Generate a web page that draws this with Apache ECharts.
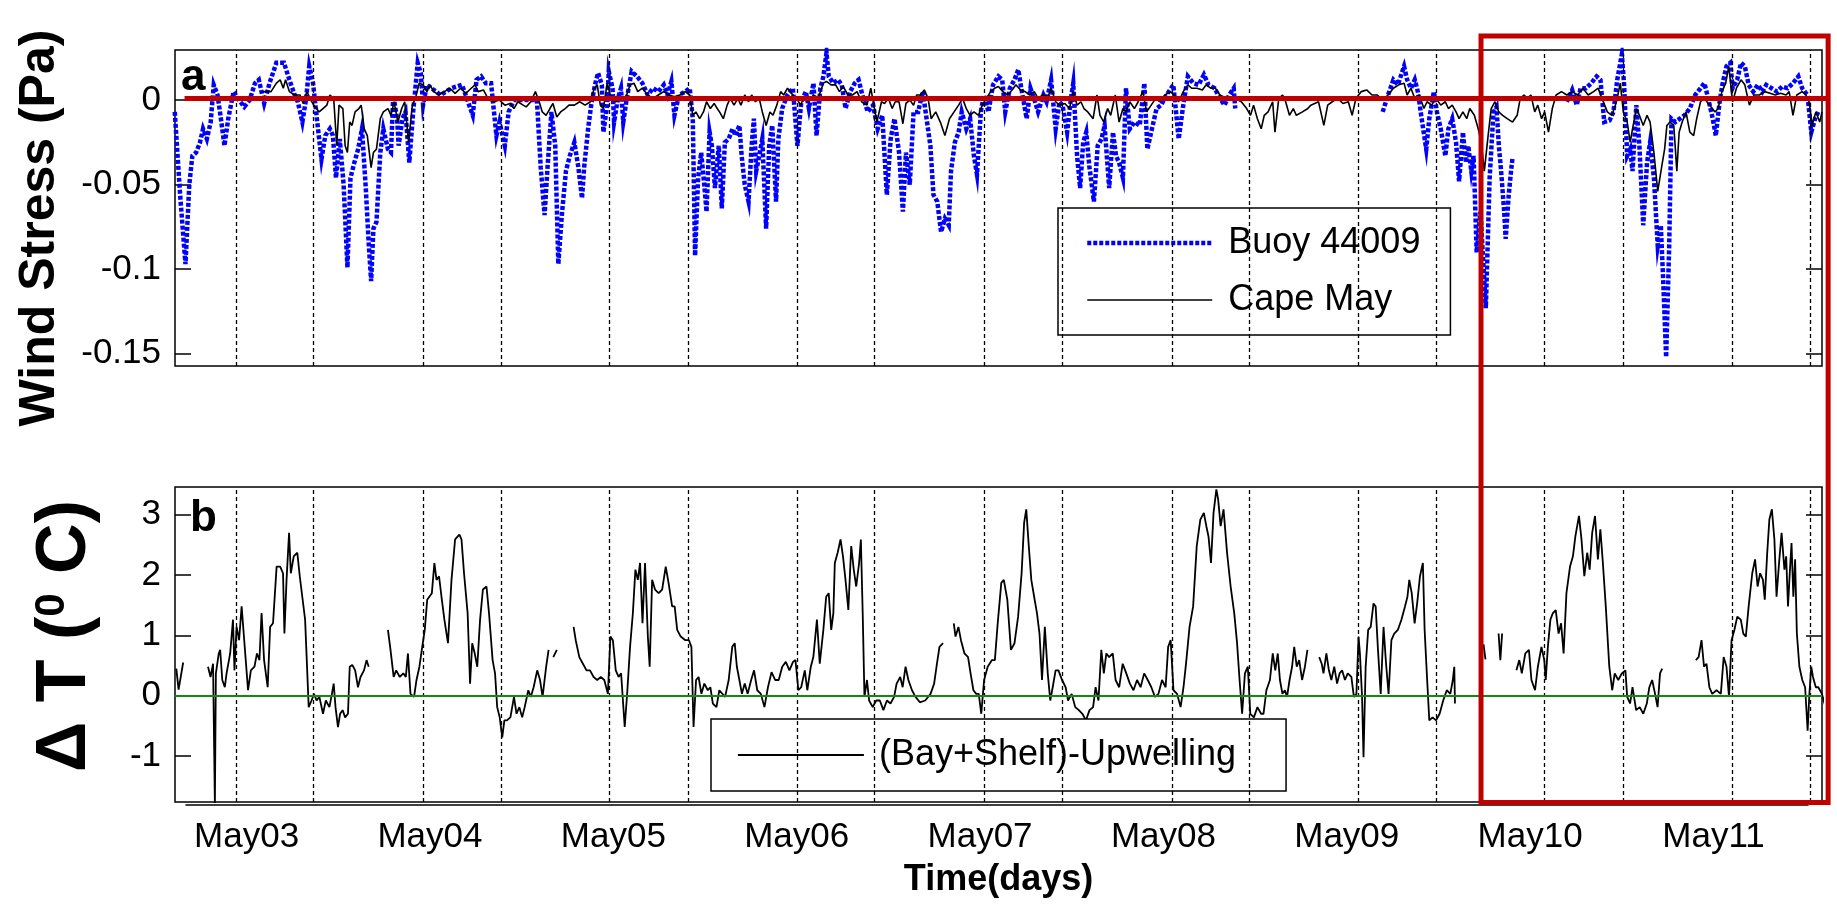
<!DOCTYPE html>
<html><head><meta charset="utf-8">
<script src="https://cdn.jsdelivr.net/npm/echarts@6/dist/echarts.min.js"></script>
<style>html,body{margin:0;padding:0;background:#fff}#c{width:1837px;height:906px}</style>
</head><body><div id="c"></div>
<script>
// x values are hours since May03 00:00
const dayTicks = [0, 24, 48, 72, 96, 120, 144, 168, 192];
const dayLabels = ['May03','May04','May05','May06','May07','May08','May09','May10','May11'];
const nightLines = [-1.4, 8.75, 23.1, 33.3, 47.5, 57.8, 72.1, 82.2, 96.5, 106.7, 121.1, 131.3, 145.5, 155.7, 169.9, 180.2, 194.5, 204.6];
const wsTicks = [0, -0.05, -0.1, -0.15];
const wsTickLabels = ['0', '-0.05', '-0.1', '-0.15'];
const dtTicks = [-1, 0, 1, 2, 3];
const dtTickLabels = ['-1', '0', '1', '2', '3'];

const buoy44009 = [[-9.4,-0.007],[-8.7,-0.056],[-8.0,-0.097],[-7.5,-0.050],[-7.1,-0.033],[-6.6,-0.031],[-6.1,-0.025],[-5.7,-0.017],[-5.2,-0.023],[-4.7,-0.013],[-4.3,0.009],[-3.8,0.003],[-3.3,-0.013],[-2.9,-0.027],[-2.4,-0.011],[-1.7,0.005],[-1.0,0.000],[-0.3,-0.004],[0.4,0.000],[1.1,0.010],[1.6,0.012],[2.3,-0.002],[3.0,0.010],[3.9,0.022],[4.9,0.022],[5.6,0.012],[6.3,0.003],[6.7,-0.001],[7.3,-0.013],[7.8,0.001],[8.2,0.020],[8.7,0.010],[9.2,-0.011],[9.8,-0.035],[10.3,-0.021],[10.9,-0.017],[11.3,-0.021],[11.7,-0.046],[12.2,-0.023],[12.7,-0.050],[13.2,-0.099],[13.6,-0.046],[14.1,-0.037],[14.6,-0.029],[15.1,-0.017],[15.6,-0.052],[16.0,-0.086],[16.3,-0.107],[16.6,-0.076],[17.0,-0.072],[17.5,-0.031],[17.9,-0.017],[18.5,-0.029],[18.9,-0.031],[19.2,0.003],[19.7,-0.011],[19.9,-0.027],[20.4,-0.011],[20.8,-0.007],[21.3,-0.037],[21.8,-0.007],[22.4,0.022],[22.8,0.016],[23.1,-0.003],[23.6,0.009],[25.4,0.003],[26.8,0.007],[28.2,0.009],[29.6,-0.009],[30.1,0.012],[30.7,0.014],[31.3,0.010],[32.0,0.010],[32.7,-0.021],[33.1,-0.013],[33.8,-0.027],[34.3,-0.007],[35.0,0.000],[36.6,0.000],[38.0,0.000],[38.5,-0.040],[39.0,-0.068],[39.4,-0.039],[39.9,-0.007],[40.4,-0.027],[40.8,-0.097],[41.3,-0.066],[41.8,-0.042],[42.3,-0.033],[42.9,-0.025],[43.4,-0.039],[43.9,-0.058],[44.2,-0.039],[44.7,-0.017],[45.1,-0.003],[45.6,0.009],[46.0,0.016],[46.5,0.009],[46.7,-0.019],[47.2,-0.003],[47.4,0.017],[47.9,0.007],[48.1,-0.013],[48.6,0.001],[49.0,0.007],[49.3,-0.013],[49.7,-0.001],[50.4,0.017],[51.1,0.014],[51.8,0.010],[52.5,0.003],[53.2,0.007],[53.9,0.005],[54.6,0.009],[55.1,0.003],[55.6,0.011],[56.0,-0.009],[56.6,0.003],[57.4,0.005],[58.0,0.007],[58.4,-0.011],[58.7,-0.092],[59.1,-0.046],[59.5,-0.031],[59.9,-0.050],[60.2,-0.066],[60.6,-0.019],[60.9,-0.027],[61.3,-0.052],[61.8,-0.027],[62.2,-0.064],[62.6,-0.025],[63.1,-0.023],[63.6,-0.017],[64.0,-0.021],[64.5,-0.015],[64.8,-0.033],[65.2,-0.050],[65.7,-0.060],[66.1,-0.027],[66.4,-0.011],[66.7,-0.042],[67.1,-0.033],[67.5,-0.023],[68.0,-0.076],[68.4,-0.027],[68.8,-0.015],[69.3,-0.060],[69.6,-0.023],[70.1,-0.005],[70.8,0.003],[71.5,0.007],[72.1,-0.027],[72.6,-0.001],[73.2,0.005],[73.6,-0.005],[74.2,0.010],[74.6,-0.021],[75.1,0.007],[75.5,0.014],[75.9,0.028],[76.2,0.014],[76.8,0.010],[77.4,0.012],[77.9,0.009],[78.4,-0.005],[79.0,0.005],[79.6,0.010],[80.1,0.012],[80.6,0.003],[81.3,-0.007],[82.0,-0.003],[82.6,-0.017],[83.2,-0.009],[83.8,-0.056],[84.3,-0.023],[84.8,-0.011],[85.4,-0.031],[85.9,-0.066],[86.3,-0.031],[86.8,-0.050],[87.3,-0.007],[87.9,-0.007],[88.5,0.005],[89.0,-0.011],[89.5,-0.027],[89.9,-0.056],[90.4,-0.060],[90.9,-0.078],[91.4,-0.070],[91.9,-0.074],[92.2,-0.042],[92.7,-0.025],[93.2,-0.019],[93.6,-0.007],[94.2,-0.017],[94.7,-0.011],[95.2,-0.033],[95.6,-0.044],[96.1,-0.007],[96.5,0.003],[97.1,-0.007],[97.7,0.009],[98.4,0.014],[98.9,0.012],[99.3,-0.007],[99.9,0.007],[100.5,0.012],[101.0,0.018],[101.4,0.007],[102.1,-0.011],[102.6,0.007],[103.2,-0.001],[103.6,-0.007],[104.3,0.003],[104.7,-0.001],[105.3,0.012],[105.9,-0.017],[106.4,-0.001],[106.8,-0.003],[107.4,-0.019],[107.9,0.001],[108.2,0.010],[108.7,-0.033],[109.1,-0.052],[109.5,-0.025],[109.9,-0.019],[110.3,-0.039],[110.9,-0.060],[111.4,-0.027],[111.9,-0.023],[112.3,-0.015],[112.9,-0.052],[113.4,-0.019],[113.8,-0.033],[114.2,-0.037],[114.7,-0.046],[115.1,0.007],[115.6,-0.017],[116.2,-0.013],[116.9,-0.015],[117.5,0.010],[117.9,-0.029],[118.5,-0.017],[119.1,-0.005],[119.7,-0.003],[120.4,0.003],[121.3,0.009],[122.0,-0.023],[122.6,-0.003],[123.2,0.014],[123.9,0.010],[124.6,0.009],[125.3,0.015],[125.9,0.009],[126.7,0.007],[127.4,0.001],[128.0,-0.003],[128.6,0.003],[129.2,0.007],[129.4,-0.005],[139,null],[148.7,-0.007],[149.4,0.003],[150.1,0.012],[150.7,0.009],[151.2,0.016],[151.5,0.020],[151.9,0.012],[152.4,0.007],[152.9,0.012],[153.3,0.005],[153.8,-0.011],[154.4,-0.029],[154.8,-0.011],[155.4,0.005],[155.8,-0.007],[156.3,-0.017],[156.9,-0.033],[157.3,-0.017],[157.8,-0.011],[158.3,-0.025],[158.7,-0.048],[159.2,-0.019],[159.6,-0.037],[159.9,-0.027],[160.3,-0.042],[160.6,-0.033],[161.0,-0.090],[161.5,-0.066],[162.2,-0.123],[162.7,-0.046],[163.2,-0.007],[163.6,-0.004],[163.9,-0.027],[164.2,-0.042],[164.6,-0.066],[164.8,-0.082],[165.2,-0.056],[165.5,-0.042],[165.7,-0.034],[169,null],[172.8,-0.001],[173.5,0.006],[174.1,-0.003],[174.6,0.007],[175.3,0.007],[176.0,0.010],[176.7,0.014],[177.2,0.012],[177.7,-0.013],[178.4,-0.012],[178.9,-0.007],[179.4,0.012],[180.0,0.027],[180.3,0.009],[180.7,-0.033],[181.1,-0.029],[181.4,-0.042],[181.9,-0.003],[182.3,-0.027],[182.8,-0.074],[183.3,-0.037],[183.7,-0.025],[184.2,-0.046],[184.7,-0.086],[185.1,-0.074],[185.4,-0.105],[185.8,-0.152],[186.2,-0.086],[186.5,-0.011],[187.0,-0.013],[187.6,-0.011],[188.2,-0.009],[188.9,-0.005],[189.6,0.003],[190.3,0.007],[190.8,0.010],[191.2,0.003],[191.9,-0.011],[192.3,-0.021],[192.8,-0.001],[193.2,0.010],[193.7,0.020],[194.2,0.022],[194.5,0.007],[195.1,0.012],[195.6,0.022],[196.1,0.020],[196.6,0.009],[197.2,0.005],[197.8,0.009],[198.4,0.005],[198.9,0.009],[199.6,0.007],[200.3,0.005],[201.0,0.008],[201.7,0.007],[202.4,0.010],[203.1,0.014],[203.6,0.007],[204.3,0.003],[204.8,-0.019],[205.3,-0.011],[205.7,-0.007]];

const capeMay = [[2.1,0.005],[3.2,0.005],[3.9,0.010],[4.4,0.012],[4.8,0.007],[5.1,0.012],[5.6,0.005],[6.3,0.003],[7.0,0.003],[7.4,-0.002],[7.9,0.005],[8.4,0.000],[8.8,-0.003],[9.5,-0.007],[10.0,-0.005],[10.5,-0.003],[10.9,0.003],[11.4,0.001],[11.8,-0.027],[12.1,-0.003],[12.6,-0.005],[12.9,-0.027],[13.2,-0.031],[13.5,-0.013],[13.8,-0.015],[14.2,-0.007],[14.7,-0.005],[15.0,-0.003],[15.4,-0.017],[15.8,-0.021],[16.3,-0.040],[16.6,-0.031],[17.0,-0.029],[17.5,-0.011],[17.9,-0.007],[18.5,-0.005],[18.9,-0.009],[19.3,-0.001],[19.8,-0.013],[20.3,-0.005],[20.7,-0.001],[21.2,-0.025],[21.7,-0.003],[22.1,0.001],[22.6,0.010],[23.1,0.009],[23.6,0.005],[24.0,0.009],[24.5,0.005],[25.2,0.003],[25.9,0.005],[26.6,0.007],[27.3,0.004],[28.0,0.007],[28.7,0.004],[29.4,0.007],[29.9,0.009],[30.3,0.005],[31.0,0.006],[31.7,0.000],[32.4,-0.001],[33.1,0.000],[33.8,-0.003],[34.5,-0.002],[35.0,-0.005],[35.5,-0.001],[36.2,-0.003],[36.6,-0.004],[37.2,-0.001],[37.8,0.005],[38.3,-0.001],[38.7,-0.007],[39.2,-0.009],[39.7,-0.005],[40.1,-0.002],[40.6,-0.010],[41.1,-0.007],[41.7,-0.005],[42.2,-0.003],[42.9,-0.003],[43.6,-0.001],[44.3,-0.003],[45.0,-0.001],[45.5,0.007],[45.9,0.009],[46.3,-0.003],[46.7,-0.005],[47.2,0.010],[47.6,0.003],[48.2,-0.001],[48.9,0.000],[49.6,0.001],[50.2,0.009],[50.7,0.010],[51.2,0.005],[51.8,0.007],[52.5,0.003],[53.2,0.001],[53.9,0.003],[54.6,0.005],[55.3,0.003],[56.0,0.002],[56.7,0.003],[57.4,0.005],[58.0,0.003],[58.4,-0.009],[58.8,-0.007],[59.3,-0.011],[59.8,-0.007],[60.2,-0.001],[60.7,-0.005],[61.2,-0.002],[61.6,-0.005],[61.9,-0.007],[62.4,-0.011],[62.9,-0.003],[63.3,0.001],[63.8,-0.003],[64.3,0.001],[64.7,-0.003],[65.2,0.003],[65.7,-0.001],[66.1,0.003],[66.6,-0.001],[67.1,0.001],[67.5,-0.007],[68.0,-0.015],[68.5,-0.007],[68.9,-0.009],[69.4,-0.003],[69.9,0.005],[70.3,0.003],[70.8,0.007],[71.3,0.004],[72.0,0.001],[72.5,-0.003],[72.9,0.001],[73.6,-0.001],[74.2,0.003],[74.8,0.001],[75.5,0.010],[75.9,0.011],[76.5,0.009],[77.1,0.009],[77.6,0.005],[78.1,0.008],[78.7,0.003],[79.3,0.003],[79.9,0.005],[80.5,-0.001],[81.2,-0.003],[81.7,0.007],[82.1,-0.003],[82.5,-0.013],[83.1,-0.001],[83.5,-0.002],[84.0,0.001],[84.5,-0.005],[84.9,-0.001],[85.4,-0.001],[85.9,-0.014],[86.3,-0.002],[86.8,0.000],[87.3,-0.003],[87.7,0.003],[88.2,0.003],[88.7,0.006],[89.2,0.001],[89.6,-0.011],[90.2,-0.007],[90.8,-0.013],[91.4,-0.021],[92.0,-0.011],[92.6,-0.007],[93.2,-0.003],[93.7,0.001],[94.2,-0.005],[94.7,-0.009],[95.2,-0.007],[95.8,-0.009],[96.3,-0.003],[96.8,0.001],[97.4,0.005],[97.9,0.007],[98.4,0.008],[99.0,0.005],[99.6,0.003],[100.2,0.006],[100.7,0.009],[101.3,0.006],[101.9,0.005],[102.5,0.003],[103.1,0.005],[103.6,0.001],[104.2,0.003],[104.9,0.002],[105.3,0.007],[105.9,-0.001],[106.4,-0.003],[107.1,-0.002],[107.7,-0.005],[108.2,0.005],[108.7,-0.003],[109.2,-0.001],[109.6,-0.005],[110.1,-0.007],[110.8,-0.011],[111.3,0.003],[111.7,-0.009],[112.2,-0.013],[112.7,-0.005],[113.1,-0.009],[113.7,0.003],[114.2,-0.013],[114.7,-0.005],[115.1,-0.007],[115.6,-0.001],[116.2,-0.005],[116.7,-0.001],[117.3,0.005],[117.8,-0.007],[118.4,-0.003],[119.0,0.001],[119.5,-0.001],[120.2,0.003],[120.9,0.005],[121.4,0.003],[122.0,-0.001],[122.6,0.005],[123.2,0.009],[123.7,0.007],[124.4,0.007],[125.1,0.006],[125.6,0.009],[126.2,0.007],[126.8,0.007],[127.4,0.003],[128.3,0.001],[129.3,0.001],[130.2,-0.001],[130.9,-0.005],[131.4,-0.009],[131.8,-0.003],[132.3,-0.011],[132.8,-0.017],[133.2,-0.009],[133.7,-0.007],[134.3,-0.001],[134.6,-0.019],[135.1,0.001],[135.6,0.003],[136.0,-0.001],[136.5,-0.009],[137.0,-0.005],[137.4,-0.009],[138.2,-0.007],[138.9,-0.005],[139.3,-0.003],[139.8,-0.002],[140.3,-0.001],[141.0,-0.015],[141.5,-0.003],[142.1,-0.001],[142.8,0.001],[143.5,-0.002],[144.2,-0.001],[144.7,-0.009],[145.2,0.001],[145.9,0.005],[146.6,0.006],[147.3,0.003],[148.0,0.003],[148.7,0.000],[149.4,0.003],[150.1,0.007],[150.8,0.009],[151.5,0.010],[151.9,0.003],[152.4,0.007],[152.9,0.001],[153.5,0.003],[154.1,-0.005],[154.5,-0.001],[155.1,-0.003],[155.7,0.001],[156.3,-0.003],[156.9,-0.001],[157.3,-0.005],[157.8,-0.003],[158.3,-0.007],[158.7,-0.011],[159.2,-0.007],[159.7,-0.011],[160.1,-0.005],[160.7,-0.009],[161.2,-0.017],[161.6,-0.025],[162.0,-0.042],[162.5,-0.021],[162.9,-0.005],[163.4,-0.001],[163.9,-0.007],[164.4,-0.009],[165.0,-0.011],[165.7,-0.013],[166.3,-0.009],[166.7,0.001],[167.2,0.003],[167.6,0.001],[168.1,0.003],[168.6,-0.007],[169.0,-0.003],[169.5,-0.011],[169.9,-0.007],[170.4,-0.019],[170.9,-0.005],[171.4,0.003],[172.1,0.005],[172.8,0.003],[173.5,0.005],[174.2,0.003],[174.9,0.007],[175.6,0.003],[176.3,0.005],[176.9,0.007],[177.4,0.001],[178.1,-0.007],[178.7,-0.009],[179.3,-0.001],[179.8,0.010],[180.2,-0.007],[180.7,-0.013],[181.1,-0.025],[181.4,-0.017],[181.9,-0.005],[182.3,-0.009],[182.8,-0.015],[183.3,-0.009],[183.7,-0.013],[184.2,-0.031],[184.7,-0.054],[185.2,-0.040],[185.6,-0.029],[185.9,-0.015],[186.3,-0.013],[186.8,-0.015],[187.2,-0.042],[187.5,-0.019],[187.9,-0.013],[188.4,-0.007],[188.9,-0.019],[189.4,-0.021],[189.8,-0.011],[190.3,-0.001],[190.8,0.001],[191.5,-0.003],[192.2,-0.007],[192.6,-0.005],[193.1,0.005],[193.6,0.010],[194.0,0.020],[194.5,-0.001],[195.0,0.007],[195.6,0.012],[196.1,0.009],[196.7,-0.003],[197.3,0.003],[198.0,0.003],[198.7,0.005],[199.4,0.004],[200.1,0.003],[200.8,0.004],[201.5,0.003],[201.9,0.005],[202.4,-0.009],[202.9,0.003],[203.6,0.005],[204.1,0.003],[204.5,-0.001],[204.9,-0.015],[205.4,-0.007],[205.9,-0.013],[206.2,-0.007]];

const bayShelfMinusUpwelling = [[-9.2,0.45],[-8.9,0.1],[-8.3,0.55],[-6.5,null],[-5.05,0.48],[-4.72,0.31],[-4.39,0.53],[-4.15,-1.8],[-4.02,0.37],[-3.64,0.70],[-3.46,0.76],[-3.18,0.26],[-2.85,0.14],[-2.62,0.37],[-2.15,0.70],[-1.78,1.26],[-1.59,0.42],[-1.31,1.14],[-0.98,0.92],[-0.65,1.48],[-0.28,0.87],[0.19,0.09],[0.56,0.42],[1.03,0.48],[1.36,0.70],[1.68,0.59],[1.96,1.37],[2.29,0.59],[2.76,0.14],[3.08,1.14],[3.46,1.20],[3.93,2.14],[4.39,2.14],[4.77,2.03],[4.95,1.03],[5.23,1.92],[5.56,2.70],[5.79,2.03],[6.17,2.31],[6.64,2.37],[6.96,1.98],[7.29,1.64],[7.66,1.26],[8.13,-0.19],[8.50,-0.08],[8.83,0.03],[9.16,-0.08],[9.53,-0.02],[10.0,-0.3],[10.37,-0.08],[10.84,-0.19],[11.17,0.03],[11.4,0.2],[11.64,-0.19],[11.96,-0.52],[12.24,-0.3],[12.57,-0.24],[12.9,-0.36],[13.27,-0.3],[13.5,0.48],[13.83,0.51],[14.21,0.42],[14.58,0.14],[14.91,0.31],[15.37,0.42],[15.7,0.59],[15.98,0.48],[17,null],[18.5,1.09],[18.79,0.81],[19.25,0.31],[19.58,0.42],[20.05,0.31],[20.51,0.37],[20.84,0.31],[21.12,0.70],[21.45,0.03],[21.92,-0.02],[22.24,0.26],[22.62,0.48],[22.99,0.81],[23.32,1.09],[23.64,1.59],[24.25,1.70],[24.58,2.2],[24.86,1.92],[25.19,1.98],[25.51,1.64],[25.89,1.26],[26.36,0.87],[26.82,1.92],[27.29,2.59],[27.85,2.67],[28.13,2.59],[28.46,2.03],[28.93,1.37],[29.25,0.2],[29.53,0.87],[29.86,0.7],[30.19,0.48],[30.56,1.26],[30.93,1.76],[31.4,1.81],[31.73,1.37],[32.2,0.59],[32.52,0.37],[32.8,-0.19],[33.13,-0.36],[33.46,-0.69],[33.74,-0.41],[34.07,-0.41],[34.53,-0.36],[35.0,-0.02],[35.33,-0.3],[35.7,-0.19],[36.07,-0.36],[36.4,-0.19],[36.87,0.09],[37.2,-0.02],[37.57,0.14],[38.04,0.42],[38.41,0.26],[38.74,-0.02],[39.21,0.48],[39.53,0.76],[39.8,null],[40.14,0.64],[40.61,0.76],[41.5,null],[42.8,1.14],[43.08,0.92],[43.55,0.64],[44.02,0.53],[44.49,0.42],[44.95,0.42],[45.42,0.31],[45.89,0.26],[46.36,0.31],[46.82,0.26],[47.29,0.03],[47.62,0.98],[47.94,0.92],[48.32,0.42],[48.69,0.31],[49.02,0.37],[49.49,-0.52],[49.81,0.03],[50.19,0.81],[50.56,1.37],[50.89,2.09],[51.21,1.92],[51.5,2.2],[51.82,1.2],[52.15,2.2],[52.52,0.98],[52.76,0.48],[53.08,1.92],[53.46,1.76],[53.93,1.7],[54.39,1.76],[54.86,2.14],[55.23,1.87],[55.7,1.48],[56.03,1.48],[56.36,1.09],[56.82,0.98],[57.43,0.92],[57.9,0.92],[58.22,0.81],[58.5,-0.52],[58.83,0.26],[59.16,0.31],[59.53,0.03],[59.91,0.2],[60.37,0.09],[60.7,0.14],[61.03,-0.13],[61.5,-0.19],[61.87,0.09],[62.63,-0.02],[63.1,0.26],[63.57,0.81],[63.89,0.87],[64.17,0.48],[64.5,0.26],[64.83,0.03],[65.2,0.2],[65.58,0.03],[66.04,0.26],[66.42,0.42],[66.84,0.09],[67.31,0.03],[67.78,-0.19],[68.24,0.14],[68.71,0.39],[69.18,0.26],[69.65,0.26],[70.11,0.48],[70.58,0.56],[71.05,0.42],[71.52,0.56],[71.84,0.59],[72.22,0.09],[72.59,0.14],[73.06,0.42],[73.39,0.09],[73.85,0.48],[74.18,0.64],[74.65,1.26],[75.02,0.53],[75.49,1.09],[75.86,1.64],[76.19,1.7],[76.52,1.09],[76.8,1.37],[76.99,2.2],[77.36,2.37],[77.74,2.59],[78.06,2.31],[78.39,1.92],[78.76,1.42],[79.14,2.48],[79.47,2.09],[79.79,1.81],[80.17,2.2],[80.4,2.59],[80.64,1.37],[80.87,-0.02],[81.2,0.26],[81.48,-0.08],[81.95,-0.19],[82.41,-0.08],[82.88,-0.08],[83.35,-0.24],[83.81,-0.08],[84.28,-0.13],[84.75,-0.02],[85.08,0.2],[85.55,0.31],[85.87,0.14],[86.25,0.48],[86.62,0.26],[87.09,0.09],[87.56,-0.02],[88.12,-0.11],[88.82,-0.08],[89.52,0.03],[89.99,0.2],[90.36,0.53],[90.69,0.81],[91.16,0.87],[91.8,null],[92.56,1.2],[92.79,0.98],[93.17,1.14],[93.5,0.92],[93.96,0.7],[94.43,0.64],[94.76,0.37],[95.13,0.09],[95.5,0.03],[95.83,0.03],[96.16,-0.3],[96.53,0.26],[97.0,0.48],[97.56,0.59],[97.94,0.59],[98.31,1.2],[98.78,1.87],[99.11,1.92],[99.57,1.59],[100.04,0.76],[100.51,0.87],[100.98,1.31],[101.44,2.03],[101.77,2.87],[102.05,3.09],[102.38,2.48],[102.71,1.92],[103.08,1.64],[103.45,1.37],[103.78,1.03],[104.11,0.26],[104.48,1.14],[104.86,0.37],[105.19,-0.08],[105.51,0.14],[105.89,0.42],[106.26,0.42],[106.73,0.26],[107.2,0.14],[107.52,-0.08],[107.99,0.03],[108.46,-0.19],[108.93,-0.24],[109.39,-0.3],[109.86,-0.41],[110.33,-0.24],[110.8,-0.19],[111.12,0.14],[111.5,-0.08],[111.87,0.76],[112.2,0.37],[112.53,0.7],[112.9,0.64],[113.37,0.7],[113.74,0.26],[114.21,0.14],[114.67,0.53],[115.14,0.37],[115.61,0.2],[116.08,0.09],[116.55,0.26],[117.01,0.14],[117.48,0.37],[117.95,0.26],[118.42,0.14],[118.89,-0.02],[119.35,0.03],[119.82,0.26],[120.29,0.14],[120.62,0.81],[120.95,0.92],[121.32,0.09],[121.79,0.03],[122.25,-0.19],[122.63,0.14],[122.96,0.53],[123.42,1.14],[123.89,1.48],[124.36,2.48],[124.83,2.92],[125.29,3.03],[125.62,2.81],[125.9,2.64],[126.23,2.2],[126.56,3.03],[126.93,3.42],[127.16,3.26],[127.49,2.81],[127.87,3.09],[128.33,2.37],[128.8,1.81],[129.27,1.37],[129.64,0.87],[129.97,0.26],[130.3,-0.3],[130.67,0.37],[131.05,0.48],[131.37,-0.3],[131.84,-0.36],[132.31,-0.19],[132.78,-0.3],[133.1,-0.3],[133.48,0.09],[133.94,0.26],[134.31,0.7],[134.64,0.42],[134.97,0.7],[135.25,0.26],[135.58,0.03],[135.9,0.09],[136.18,-0.02],[136.51,0.26],[136.84,0.48],[137.12,0.81],[137.45,0.48],[137.77,0.59],[138.15,0.26],[138.52,0.48],[138.85,0.76],[139.5,null],[140.39,0.64],[140.72,0.53],[140.95,0.37],[141.33,0.7],[141.66,0.42],[141.98,0.26],[142.36,0.48],[142.73,0.2],[143.06,0.37],[143.39,0.42],[143.76,0.26],[144.13,0.37],[144.6,0.31],[144.93,-0.02],[145.26,0.03],[145.54,0.98],[145.72,0.7],[146.0,-0.02],[146.19,-1.02],[146.47,0.48],[146.8,1.09],[147.13,1.14],[147.5,1.53],[147.78,1.48],[148.06,0.81],[148.44,0.03],[148.81,1.14],[149.14,0.53],[149.47,0.03],[149.84,0.92],[150.21,1.03],[150.68,1.09],[151.15,1.26],[151.62,1.48],[151.94,1.64],[152.18,1.92],[152.5,1.7],[152.88,1.2],[153.21,1.53],[153.58,1.98],[153.96,2.2],[154.19,1.09],[154.52,0.26],[154.8,-0.41],[155.22,-0.36],[155.69,-0.41],[156.15,-0.3],[156.62,-0.08],[157.09,0.09],[157.55,0.03],[157.88,0.26],[158.07,0.48],[158.16,-0.13],[160,null],[161.9,0.85],[162.15,0.6],[163,null],[163.87,1.03],[164.1,0.59],[164.33,1.03],[165,null],[166.2,0.42],[166.58,0.59],[166.91,0.37],[167.37,0.7],[167.84,0.76],[168.17,0.26],[168.64,0.09],[169.01,0.48],[169.48,0.81],[169.85,0.59],[170.04,0.26],[170.32,0.81],[170.65,1.26],[170.98,1.37],[171.35,1.42],[171.72,1.03],[172.05,1.2],[172.38,0.7],[172.75,1.7],[173.22,2.14],[173.6,2.31],[173.92,2.64],[174.39,2.98],[174.72,2.59],[175.09,1.98],[175.47,2.37],[175.79,2.09],[176.12,2.7],[176.49,2.98],[176.87,2.26],[177.19,2.76],[177.52,2.2],[177.9,1.48],[178.36,0.48],[178.74,0.09],[179.07,0.37],[179.53,0.26],[180.0,0.37],[180.47,0.42],[180.7,-0.02],[181.08,-0.13],[181.4,0.14],[181.87,-0.24],[182.34,-0.19],[182.81,-0.3],[183.27,-0.13],[183.6,0.14],[183.97,0.26],[184.35,0.03],[184.68,-0.19],[185.0,0.37],[185.28,0.45],[187,null],[189.68,0.59],[190.05,0.64],[190.43,0.92],[190.76,0.48],[191.08,0.53],[191.46,0.14],[191.83,0.03],[192.39,0.09],[192.96,0.03],[193.33,0.64],[193.7,0.48],[194.03,-0.02],[194.36,0.92],[194.73,1.09],[195.11,1.31],[195.57,1.26],[195.9,1.03],[196.23,0.98],[196.6,1.48],[197.07,2.03],[197.44,2.26],[197.77,1.81],[198.1,2.03],[198.47,1.92],[198.71,1.59],[199.03,2.37],[199.31,2.92],[199.64,3.09],[199.97,2.59],[200.25,1.64],[200.58,2.2],[200.91,2.7],[201.28,2.09],[201.51,2.31],[201.75,1.48],[201.98,2.03],[202.21,2.53],[202.45,1.64],[202.68,2.26],[202.91,1.03],[203.24,0.48],[203.62,0.26],[203.99,0.14],[204.32,-0.58],[204.55,0.03],[204.79,0.48],[205.02,0.31],[205.39,0.14],[205.72,0.14],[206.19,0.03],[206.66,-0.19]];

// annotation (hand-drawn red box/line) positions in data units
const redLineX = [-8.12, 207.0];
const redLineY = 0.001;
const redBoxX = [161.57, 207.0];
const redBoxTopWS = 0.0379;
const redBoxBottomDT = -1.77;

const FONT = "'Liberation Sans', Arial, Helvetica, sans-serif";
const X_MIN = -9.37, X_MAX = 206.2;
const WS_MIN = -0.1572, WS_MAX = 0.0296;
const DT_MIN = -1.763, DT_MAX = 3.46;

const toData = arr => arr.map(p => [p[0], p[1] === null ? '-' : p[1]]);
const pick = (ticks, labels) => v => { const i = ticks.findIndex(t => Math.abs(t - v) < 1e-9); return i >= 0 ? labels[i] : ''; };

const chart = echarts.init(document.getElementById('c'), null, {renderer: 'canvas'});

const hiddenX = (gi) => ({
  type: 'value', gridIndex: gi, min: X_MIN, max: X_MAX,
  axisLine: {show: false, onZero: false}, axisTick: {show: false}, axisLabel: {show: false}, splitLine: {show: false}
});
const leftY = (gi, min, max, ticks, labels) => ({
  type: 'value', gridIndex: gi, min, max, position: 'left',
  axisLine: {show: false, onZero: false}, splitLine: {show: false},
  axisTick: {show: true, inside: true, length: 16, customValues: ticks, lineStyle: {color: '#000', width: 1.5}},
  axisLabel: {show: true, customValues: ticks, formatter: pick(ticks, labels), margin: 14, color: '#000', fontSize: 35, fontFamily: FONT}
});
const rightY = (gi, min, max, ticks) => ({
  type: 'value', gridIndex: gi, min, max, position: 'right',
  axisLine: {show: false, onZero: false}, splitLine: {show: false}, axisLabel: {show: false},
  axisTick: {show: true, inside: true, length: 16, customValues: ticks, lineStyle: {color: '#000', width: 1.5}}
});
const nightMark = nightLines.map(x => ({xAxis: x}));
const dashStyle = {color: '#000', type: [4, 3], width: 1.3};
const noSymbol = {color: 'rgba(0,0,0,0)', borderColor: 'rgba(0,0,0,0)', borderWidth: 0};

chart.setOption({
  animation: false,
  backgroundColor: '#fff',
  grid: [
    {left: 175, top: 50, width: 1647, height: 316, show: true, borderColor: '#000', borderWidth: 1.5, outerBoundsMode: 'none'},
    {left: 175, top: 487, width: 1647, height: 315, show: true, borderColor: '#000', borderWidth: 1.5, outerBoundsMode: 'none'},
    {left: 186, top: 804, width: 1622, height: 1, show: false, outerBoundsMode: 'none'}
  ],
  xAxis: [
    hiddenX(0),
    {
      type: 'value', gridIndex: 1, min: X_MIN, max: X_MAX,
      axisLine: {show: false, onZero: false}, axisTick: {show: false}, splitLine: {show: false},
      axisLabel: {show: true, customValues: dayTicks, formatter: pick(dayTicks, dayLabels), margin: 18, color: '#000', fontSize: 35, fontFamily: FONT},
      name: 'Time(days)', nameLocation: 'middle', nameGap: 60,
      nameTextStyle: {color: '#000', fontSize: 36, fontWeight: 'bold', fontFamily: FONT}
    },
    {type: 'value', gridIndex: 2, min: 0, max: 1, position: 'bottom',
      axisLine: {show: true, onZero: false, lineStyle: {color: '#000', width: 1.5}},
      axisTick: {show: false}, axisLabel: {show: false}, splitLine: {show: false}}
  ],
  yAxis: [
    leftY(0, WS_MIN, WS_MAX, wsTicks, wsTickLabels),
    rightY(0, WS_MIN, WS_MAX, wsTicks),
    leftY(1, DT_MIN, DT_MAX, dtTicks, dtTickLabels),
    rightY(1, DT_MIN, DT_MAX, dtTicks),
    {type: 'value', gridIndex: 2, show: false, min: 0, max: 1}
  ],
  legend: [
    {
      data: [
        {name: 'Buoy 44009', lineStyle: {color: '#0000ff', width: 4.5, type: [4, 2]}, itemStyle: noSymbol},
        {name: 'Cape May', lineStyle: {color: '#000', width: 1.6, type: 'solid'}, itemStyle: noSymbol}
      ],
      orient: 'vertical', left: 1058, top: 208,
      itemWidth: 125, itemHeight: 20, itemGap: 17,
      padding: [15, 30, 15, 27],
      itemStyle: noSymbol,
      borderColor: '#000', borderWidth: 1.5, backgroundColor: '#fff', borderRadius: 0,
      textStyle: {color: '#000', fontSize: 36, fontFamily: FONT, lineHeight: 40, padding: [0, 0, 0, 11]},
      selectedMode: false
    },
    {
      data: [{name: '(Bay+Shelf)-Upwelling', lineStyle: {color: '#000', width: 1.8, type: 'solid'}, itemStyle: noSymbol}],
      orient: 'vertical', left: 711, top: 719,
      itemWidth: 126, itemHeight: 20,
      padding: [16, 50, 16, 26],
      itemStyle: noSymbol,
      borderColor: '#000', borderWidth: 1.5, backgroundColor: '#fff', borderRadius: 0,
      textStyle: {color: '#000', fontSize: 36, fontFamily: FONT, lineHeight: 40, padding: [0, 0, 0, 10]},
      selectedMode: false
    }
  ],
  series: [
    {
      name: 'Buoy 44009', type: 'line', xAxisIndex: 0, yAxisIndex: 0,
      data: toData(buoy44009), symbol: 'none', connectNulls: false, clip: true,
      lineStyle: {color: '#0000ff', width: 4.5, type: [4, 2], cap: 'butt', join: 'miter'},
      itemStyle: {color: '#0000ff'}, z: 2
    },
    {
      name: 'Cape May', type: 'line', xAxisIndex: 0, yAxisIndex: 0,
      data: toData(capeMay), symbol: 'none', clip: true,
      lineStyle: {color: '#000', width: 1.6}, itemStyle: {color: '#000'}, z: 3,
      markLine: {silent: true, symbol: ['none', 'none'], label: {show: false}, lineStyle: dashStyle, data: nightMark, animation: false}
    },
    {
      name: '(Bay+Shelf)-Upwelling', type: 'line', xAxisIndex: 1, yAxisIndex: 2,
      data: toData(bayShelfMinusUpwelling), symbol: 'none', connectNulls: false, clip: true,
      lineStyle: {color: '#000', width: 1.8}, itemStyle: {color: '#000'}, z: 3,
      markLine: {silent: true, symbol: ['none', 'none'], label: {show: false}, lineStyle: dashStyle, animation: false,
        data: nightMark.concat([{yAxis: 0, lineStyle: {color: '#118a11', type: 'solid', width: 2}}])}
    }
  ]
});

const pTop = (x, y) => chart.convertToPixel({xAxisIndex: 0, yAxisIndex: 0}, [x, y]);
const pBot = (x, y) => chart.convertToPixel({xAxisIndex: 1, yAxisIndex: 2}, [x, y]);
const l0 = pTop(redLineX[0], redLineY), l1 = pTop(redLineX[1], redLineY);
const bTL = pTop(redBoxX[0], redBoxTopWS), bBR = pBot(redBoxX[1], redBoxBottomDT);

chart.setOption({
  graphic: [
    {type: 'line', z: 100, silent: true, shape: {x1: l0[0], y1: l0[1], x2: l1[0], y2: l1[1]}, style: {stroke: '#c00000', lineWidth: 5}},
    {type: 'rect', z: 100, silent: true, shape: {x: bTL[0], y: bTL[1], width: bBR[0] - bTL[0], height: bBR[1] - bTL[1]}, style: {fill: 'none', stroke: '#c00000', lineWidth: 5}},
    {type: 'text', z: 50, silent: true, x: 181, y: 78, style: {text: 'a', fill: '#000', font: 'bold 44px ' + FONT, verticalAlign: 'middle', align: 'left'}},
    {type: 'text', z: 50, silent: true, x: 190, y: 519, style: {text: 'b', fill: '#000', font: 'bold 44px ' + FONT, verticalAlign: 'middle', align: 'left'}},
    {type: 'text', z: 50, silent: true, x: 40, y: 228, rotation: Math.PI / 2,
      style: {text: 'Wind Stress (Pa)', fill: '#000', font: 'bold 50px ' + FONT, align: 'center', verticalAlign: 'middle'}},
    {type: 'text', z: 50, silent: true, x: 66, y: 636, rotation: Math.PI / 2,
      style: {text: 'Δ T ({s|0} C)', fill: '#000', font: 'bold 70px ' + FONT, align: 'center', verticalAlign: 'middle',
        rich: {s: {fontSize: 42, fontWeight: 'bold', fontFamily: FONT, fill: '#000', verticalAlign: 'top'}}}}
  ]
});
</script>
</body></html>
